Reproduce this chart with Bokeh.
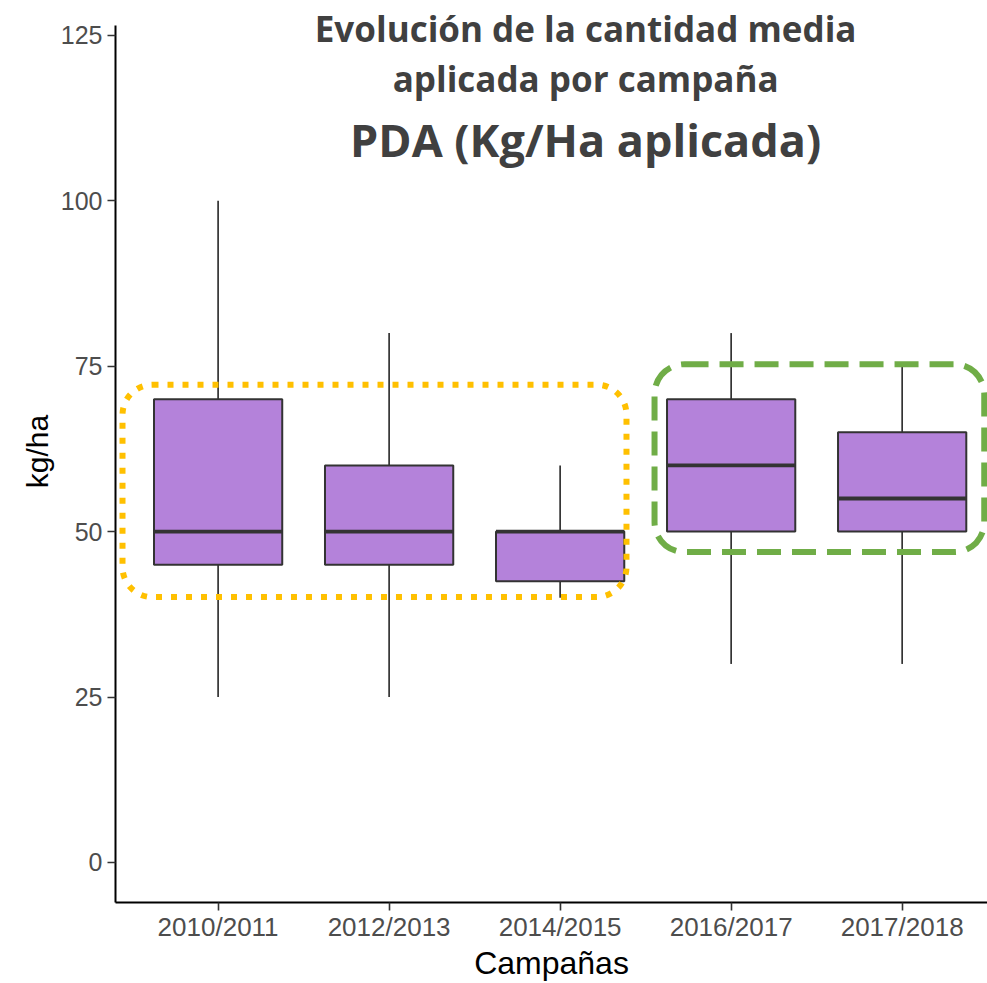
from bokeh.plotting import figure
from bokeh.models import Range1d, FixedTicker, BoxAnnotation, Label
from bokeh.embed import file_html
from bokeh.resources import INLINE

# ---- data ----
campaigns = ["2010/2011", "2012/2013", "2014/2015", "2016/2017", "2017/2018"]
whisker_low = [25, 25, 40, 30, 30]
q1 = [45, 45, 42.5, 50, 50]
median = [50, 50, 50, 60, 55]
q3 = [70, 60, 50, 70, 65]
whisker_high = [100, 80, 60, 80, 75]
y_ticks = [0, 25, 50, 75, 100, 125]
title_lines = ["Evolución de la cantidad media", "aplicada por campaña", "PDA (Kg/Ha aplicada)"]

xs = list(range(1, len(campaigns) + 1))
box_w = 0.75

p = figure(width=987, height=983, output_backend="svg", toolbar_location=None,
           x_range=Range1d(0.4, 5.499), y_range=Range1d(-6.05, 130.26),
           min_border_left=115, min_border_right=0, min_border_top=0, min_border_bottom=0,
           x_axis_label="Campañas", y_axis_label="kg/ha")

p.outline_line_color = None
p.xgrid.visible = False
p.ygrid.visible = False
p.background_fill_color = "white"

# whiskers
p.segment(x0=xs, y0=q3, x1=xs, y1=whisker_high, line_color="#333333", line_width=1.7)
p.segment(x0=xs, y0=q1, x1=xs, y1=whisker_low, line_color="#333333", line_width=1.7)
# boxes
p.vbar(x=xs, width=box_w, bottom=q1, top=q3, fill_color="#B482DA",
       line_color="#333333", line_width=2)
# medians
p.segment(x0=[x - box_w / 2 for x in xs], y0=median, x1=[x + box_w / 2 for x in xs], y1=median,
          line_color="#333333", line_width=3.8)

# highlight boxes
p.add_layout(BoxAnnotation(left=0.441, right=3.388, bottom=40.1, top=72.2,
                           fill_alpha=0, line_color="#FFC000", line_alpha=1, line_width=6,
                           line_dash="6 9", border_radius=30))
p.add_layout(BoxAnnotation(left=3.552, right=5.48, bottom=46.9, top=75.3,
                           fill_alpha=0, line_color="#70AD47", line_alpha=1, line_width=6,
                           line_dash="24 11", border_radius=30))

# title lines
for txt, yv, fs in zip(title_lines, [126.1, 118.5, 109.2], ["35px", "35px", "45px"]):
    p.add_layout(Label(x=3.149, y=yv, text=txt, text_align="center",
                       text_baseline="alphabetic", text_font="Open Sans",
                       text_font_style="bold", text_font_size=fs, text_color="#404040"))

# axes
for ax in (p.xaxis[0], p.yaxis[0]):
    ax.axis_line_color = "black"
    ax.axis_line_width = 2
    ax.major_tick_line_color = "#333333"
    ax.major_tick_line_width = 1.6
    ax.major_tick_out = 8
    ax.major_tick_in = 0
    ax.minor_tick_line_color = None
    ax.major_label_text_font = "Liberation Sans"
    ax.major_label_text_color = "#4D4D4D"
    ax.axis_label_text_font = "Liberation Sans"
    ax.axis_label_text_font_style = "normal"
    ax.axis_label_text_color = "black"

p.xaxis.major_label_text_font_size = "26px"
p.yaxis.major_label_text_font_size = "25px"
p.xaxis.axis_label_text_font_size = "32px"
p.yaxis.axis_label_text_font_size = "30px"
p.xaxis.major_label_standoff = 1
p.xaxis.axis_label_standoff = 0
p.yaxis.major_label_standoff = 5
p.yaxis.axis_label_standoff = 4

p.xaxis.ticker = FixedTicker(ticks=xs)
p.xaxis.major_label_overrides = {x: c for x, c in zip(xs, campaigns)}
p.yaxis.ticker = FixedTicker(ticks=y_ticks)
p.yaxis.bounds = (-6.2, 126.5)

open("out.html", "w").write(file_html(p, INLINE))
